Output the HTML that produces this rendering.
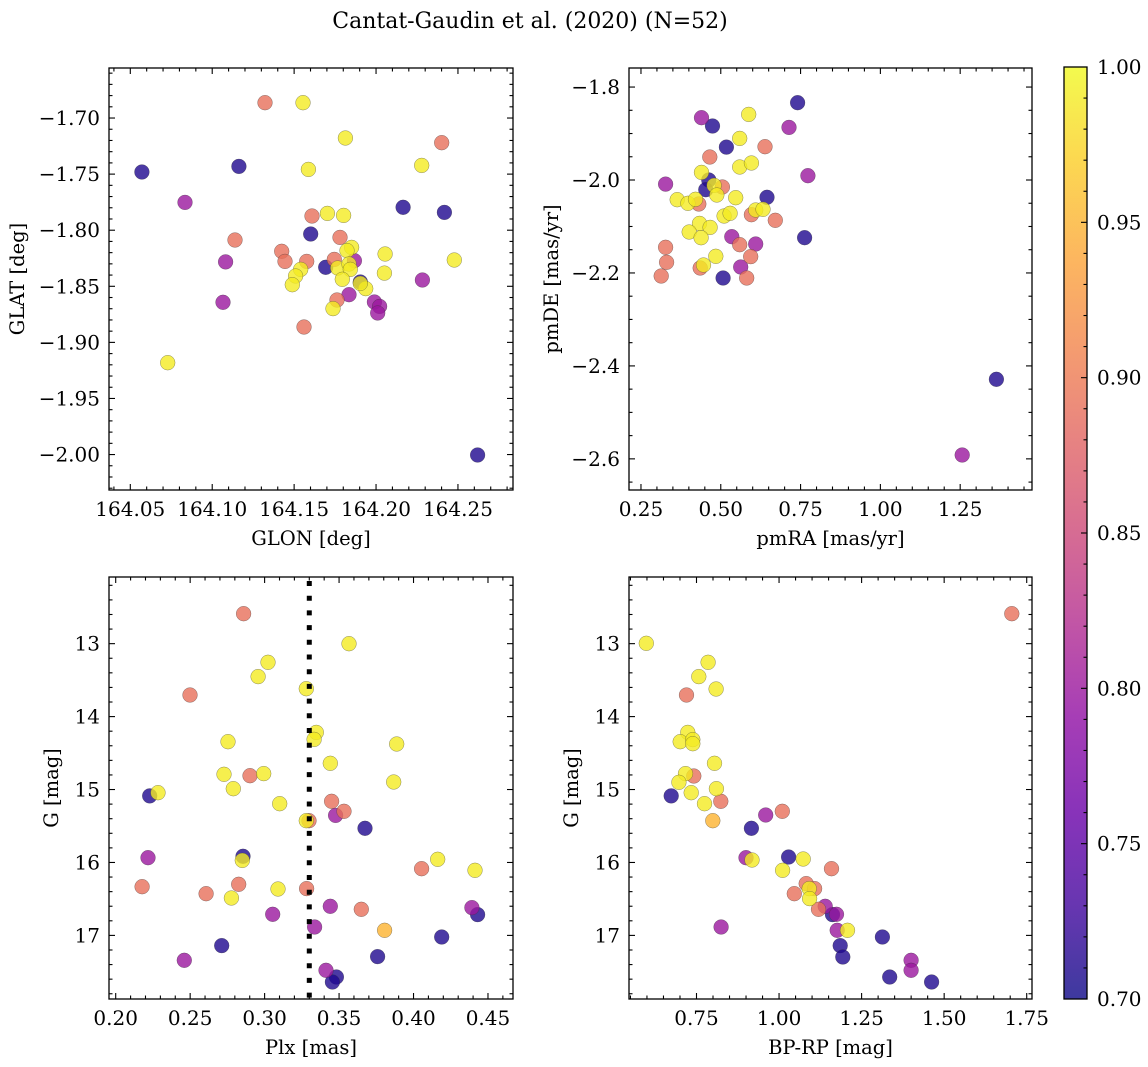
<!DOCTYPE html>
<html><head><meta charset="utf-8"><style>
html,body{margin:0;padding:0;background:#fff;}
svg{display:block;font-family:"DejaVu Serif","Liberation Serif",serif;}
</style></head><body>
<svg id="fig" width="1148" height="1067" viewBox="0 0 1148 1067" xmlns="http://www.w3.org/2000/svg">
<text x="530" y="28" text-anchor="middle" font-size="22">Cantat-Gaudin et al. (2020) (N=52)</text>
</svg>
<script>
// ---------- data ----------
const p1Glon=[164.0571,164.1163,164.1322,164.1554,164.1813,164.2401,164.2279,164.1587,164.0834,164.2165,164.2417,164.1609,164.1703,164.1802,164.1139,164.1601,164.1780,164.1424,164.1082,164.1444,164.1577,164.1851,164.1823,164.1693,164.1745,164.1868,164.1766,164.1835,164.1843,164.2055,164.1540,164.1509,164.1489,164.1794,164.1904,164.1937,164.2051,164.2283,164.2478,164.1066,164.1835,164.1762,164.1737,164.1990,164.2022,164.2010,164.1560,164.0728,164.2620,164.1904];
const p1Glat=[-1.7481,-1.7431,-1.6863,-1.6863,-1.7178,-1.7220,-1.7422,-1.7458,-1.7752,-1.7796,-1.7841,-1.7873,-1.7850,-1.7868,-1.8087,-1.8034,-1.8064,-1.8188,-1.8283,-1.8278,-1.8278,-1.8153,-1.8182,-1.8331,-1.8260,-1.8272,-1.8337,-1.8301,-1.8349,-1.8212,-1.8349,-1.8408,-1.8486,-1.8438,-1.8462,-1.8521,-1.8382,-1.8444,-1.8266,-1.8643,-1.8575,-1.8622,-1.8699,-1.8640,-1.8679,-1.8738,-1.8863,-1.9181,-2.0004,-1.8474];
const p1Prob=[0.71,0.71,0.89,0.99,0.99,0.89,0.99,0.99,0.80,0.71,0.71,0.89,0.99,0.99,0.89,0.71,0.89,0.89,0.80,0.89,0.89,0.99,0.99,0.71,0.89,0.80,0.99,0.99,0.99,0.99,0.99,0.99,0.99,0.99,0.71,0.99,0.99,0.80,0.99,0.80,0.80,0.89,0.99,0.80,0.80,0.80,0.89,0.99,0.71,0.99];

const p2PmRA=[0.7406,0.5875,0.4396,0.4740,0.7136,0.5594,0.5177,0.6385,0.4656,0.5594,0.5958,0.4396,0.7729,0.3271,0.4625,0.4531,0.4792,0.5052,0.4875,0.5469,0.6448,0.3635,0.3969,0.4313,0.4208,0.5958,0.6094,0.6323,0.5104,0.5292,0.6708,0.4333,0.4667,0.4010,0.4385,0.5344,0.7625,0.5594,0.6094,0.3271,0.3302,0.4844,0.5938,0.4354,0.4458,0.5625,0.3135,0.5073,0.5813,1.3636,1.2563];
const p2PmDE=[-1.8337,-1.8588,-1.8660,-1.8839,-1.8868,-1.9104,-1.9291,-1.9283,-1.9506,-1.9721,-1.9635,-1.9836,-1.9907,-2.0087,-2.0000,-2.0208,-2.0115,-2.0151,-2.0323,-2.0380,-2.0373,-2.0423,-2.0502,-2.0517,-2.0416,-2.0746,-2.0646,-2.0631,-2.0775,-2.0717,-2.0868,-2.0933,-2.1019,-2.1119,-2.1241,-2.1219,-2.1241,-2.1391,-2.1377,-2.1449,-2.1771,-2.1642,-2.1649,-2.1893,-2.1829,-2.1872,-2.2065,-2.2108,-2.2108,-2.4288,-2.5916];
const p2Prob=[0.71,0.99,0.80,0.71,0.80,0.99,0.71,0.89,0.89,0.99,0.99,0.99,0.80,0.80,0.71,0.71,0.99,0.89,0.99,0.99,0.71,0.99,0.99,0.89,0.99,0.89,0.99,0.99,0.99,0.99,0.89,0.99,0.99,0.99,0.99,0.80,0.71,0.89,0.80,0.89,0.89,0.99,0.89,0.89,0.99,0.80,0.89,0.71,0.89,0.71,0.80];

const p3Plx=[0.2859,0.3567,0.3023,0.2956,0.3280,0.2499,0.3347,0.3332,0.2754,0.3887,0.3441,0.2727,0.2902,0.2994,0.3867,0.2790,0.2228,0.2284,0.3101,0.3450,0.3533,0.3477,0.3280,0.3298,0.3674,0.2217,0.2855,0.2850,0.4162,0.4054,0.4413,0.2177,0.2607,0.2826,0.2777,0.3090,0.3282,0.3441,0.3649,0.3054,0.4392,0.4430,0.3336,0.3806,0.4189,0.2712,0.2461,0.3759,0.3412,0.3482,0.3455];
const p3G=[12.589,13.000,13.256,13.452,13.617,13.704,14.216,14.312,14.344,14.376,14.641,14.791,14.810,14.782,14.897,14.988,15.088,15.043,15.194,15.162,15.299,15.354,15.427,15.427,15.532,15.934,15.916,15.971,15.957,16.085,16.108,16.332,16.428,16.300,16.487,16.364,16.359,16.601,16.642,16.711,16.619,16.715,16.885,16.930,17.022,17.140,17.342,17.291,17.479,17.570,17.639];
const p3Prob=[0.89,0.99,0.99,0.99,0.99,0.89,0.99,0.99,0.99,0.99,0.99,0.99,0.89,0.99,0.99,0.99,0.71,0.99,0.99,0.89,0.89,0.80,0.99,0.89,0.71,0.80,0.71,0.99,0.99,0.89,0.99,0.89,0.89,0.89,0.99,0.99,0.89,0.80,0.89,0.80,0.80,0.71,0.80,0.95,0.71,0.71,0.80,0.71,0.80,0.71,0.71];
const plxLine=0.33;

const p4Bprp=[1.7047,0.5979,0.7852,0.7570,0.8094,0.7198,0.7238,0.7007,0.7389,0.7389,0.8044,0.7168,0.7419,0.6966,0.8104,0.6735,0.7339,0.7742,0.8235,0.7993,0.9595,1.0098,0.9162,0.9000,0.9182,1.0289,1.0732,1.0108,1.1588,1.0461,1.0823,1.1075,1.0914,1.0924,1.1397,1.1196,1.1619,1.1740,1.1760,1.2072,0.8245,1.3129,1.1851,1.1931,1.400,1.400,1.335,1.4620];
const p4G=[12.589,12.995,13.256,13.452,13.622,13.704,14.216,14.344,14.316,14.371,14.641,14.782,14.814,14.901,14.988,15.088,15.043,15.194,15.162,15.427,15.349,15.299,15.532,15.934,15.966,15.925,15.952,16.108,16.085,16.428,16.290,16.359,16.359,16.496,16.601,16.642,16.715,16.711,16.930,16.930,16.885,17.022,17.140,17.296,17.342,17.479,17.570,17.639];
const p4Prob=[0.89,0.99,0.99,0.99,0.99,0.89,0.99,0.99,0.99,0.99,0.99,0.99,0.89,0.99,0.99,0.71,0.99,0.99,0.89,0.95,0.80,0.89,0.71,0.80,0.99,0.71,0.99,0.99,0.89,0.89,0.89,0.89,0.99,0.99,0.80,0.89,0.71,0.80,0.80,0.99,0.80,0.71,0.71,0.71,0.80,0.80,0.71,0.71];

const p1XTicks=[164.05,164.10,164.15,164.20,164.25];
const p1XLabels=["164.05","164.10","164.15","164.20","164.25"];
const p1YTicks=[-1.70,-1.75,-1.80,-1.85,-1.90,-1.95,-2.00];
const p1YLabels=["\u22121.70","\u22121.75","\u22121.80","\u22121.85","\u22121.90","\u22121.95","\u22122.00"];
const p2XTicks=[0.25,0.50,0.75,1.00,1.25];
const p2XLabels=["0.25","0.50","0.75","1.00","1.25"];
const p2YTicks=[-1.8,-2.0,-2.2,-2.4,-2.6];
const p2YLabels=["\u22121.8","\u22122.0","\u22122.2","\u22122.4","\u22122.6"];
const p3XTicks=[0.20,0.25,0.30,0.35,0.40,0.45];
const p3XLabels=["0.20","0.25","0.30","0.35","0.40","0.45"];
const gTicks=[13,14,15,16,17];
const gLabels=["13","14","15","16","17"];
const p4XTicks=[0.75,1.00,1.25,1.50,1.75];
const p4XLabels=["0.75","1.00","1.25","1.50","1.75"];
const cbTicks=[0.70,0.75,0.80,0.85,0.90,0.95,1.00];
const cbLabels=["0.70","0.75","0.80","0.85","0.90","0.95","1.00"];

// ---------- drawing ----------
const NS="http://www.w3.org/2000/svg";
const svg=document.getElementById('fig');
const TF=20, AF=19.5;
function mk(tag,attrs,parent){const e=document.createElementNS(NS,tag);for(const k in attrs)e.setAttribute(k,attrs[k]);(parent||svg).appendChild(e);return e;}
const plasma=[[0,13,8,135],[0.1,65,4,157],[0.2,106,0,168],[0.3,143,13,164],[0.4,177,42,144],[0.5,204,71,120],[0.6,225,100,98],[0.7,242,132,75],[0.8,252,166,54],[0.9,252,206,37],[1,240,249,33]];
function cmap(t){t=Math.max(0,Math.min(1,t));for(let i=1;i<plasma.length;i++){if(t<=plasma[i][0]){const a=plasma[i-1],b=plasma[i];const f=(t-a[0])/(b[0]-a[0]);return `rgb(${Math.round(a[1]+f*(b[1]-a[1]))},${Math.round(a[2]+f*(b[2]-a[2]))},${Math.round(a[3]+f*(b[3]-a[3]))})`;}}return 'rgb(240,249,33)';}
const CMIN=0.7,CMAX=1.0;

function panel(c){
  const g=mk('g',{});
  
  
  const sx=v=>c.x0+(v-c.xlo)/(c.xhi-c.xlo)*(c.x1-c.x0);
  const sy=v=>c.y1-(v-c.ybot)/(c.ytop-c.ybot)*(c.y1-c.y0);
  const idx=c.xs.map((_,i)=>i).sort((a,b)=>c.cs[a]-c.cs[b]);
  const pg=mk('g',{},g);
  
  
  idx.forEach(i=>{
    const p=mk('circle',{cx:sx(c.xs[i]).toFixed(1),cy:sy(c.ys[i]).toFixed(1),r:7.4,fill:cmap((c.cs[i]-CMIN)/(CMAX-CMIN)),'fill-opacity':0.8,stroke:'#333','stroke-width':0.5,'stroke-opacity':0.55},pg);
    
    
  });
  if(c.vline!==undefined){
    const l=mk('line',{x1:sx(c.vline),x2:sx(c.vline),y1:c.y0+4,y2:c.y1,stroke:'#000','stroke-width':5,'stroke-dasharray':'5,9.7'},g);
    
    
  }
  const fr=mk('rect',{x:c.x0,y:c.y0,width:c.x1-c.x0,height:c.y1-c.y0,fill:'none',stroke:'#000','stroke-width':1.3},g);
  
  
  const tk=mk('g',{stroke:'#000','stroke-width':1.1},g);
  
  
  const lo=Math.min(c.xlo,c.xhi),hi=Math.max(c.xlo,c.xhi);
  for(let k=Math.ceil(lo/c.xminor-1e-6);k*c.xminor<=hi+1e-9;k++){
    const v=k*c.xminor;const X=sx(v);if(X<c.x0+0.5||X>c.x1-0.5)continue;
    const major=c.xt.some(t=>Math.abs(t-v)<c.xminor/10);const L=major?6:3.5;
    mk('line',{x1:X,x2:X,y1:c.y1,y2:c.y1-L},tk);mk('line',{x1:X,x2:X,y1:c.y0,y2:c.y0+L},tk);
  }
  const ylo=Math.min(c.ybot,c.ytop),yhi=Math.max(c.ybot,c.ytop);
  for(let k=Math.ceil(ylo/c.yminor-1e-6);k*c.yminor<=yhi+1e-9;k++){
    const v=k*c.yminor;const Y=sy(v);if(Y<c.y0+0.5||Y>c.y1-0.5)continue;
    const major=c.yt.some(t=>Math.abs(t-v)<c.yminor/10);const L=major?6:3.5;
    mk('line',{x1:c.x0,x2:c.x0+L,y1:Y,y2:Y},tk);mk('line',{x1:c.x1,x2:c.x1-L,y1:Y,y2:Y},tk);
  }
  c.xt.forEach((v,i)=>{const t=mk('text',{x:sx(v),y:c.y1+26,'text-anchor':'middle','font-size':TF},g);t.textContent=c.xl[i];
    
    });
  c.yt.forEach((v,i)=>{const t=mk('text',{x:c.x0-9,y:sy(v)+7,'text-anchor':'end','font-size':TF},g);t.textContent=c.yl[i];
    
    });
  const xt=mk('text',{x:(c.x0+c.x1)/2,y:c.y1+55,'text-anchor':'middle','font-size':AF},g);xt.textContent=c.xtitle;
  
  
  const yc=(c.y0+c.y1)/2;
  const yt=mk('text',{x:c.ytx,y:yc,'text-anchor':'middle','font-size':AF,transform:`rotate(-90 ${c.ytx} ${yc})`},g);yt.textContent=c.ytitle;
  
  
}

panel({name:'glon-glat-panel',x0:109,x1:513,y0:68,y1:490,xlo:164.0370,xhi:164.2836,ybot:-2.0316,ytop:-1.6554,
  xs:p1Glon,ys:p1Glat,cs:p1Prob,xt:p1XTicks,xl:p1XLabels,xminor:0.01,yt:p1YTicks,yl:p1YLabels,yminor:0.01,
  xtitle:'GLON [deg]',ytitle:'GLAT [deg]',ytx:24});
panel({name:'proper-motion-panel',x0:629,x1:1032,y0:68,y1:490,xlo:0.2125,xhi:1.4750,ybot:-2.667,ytop:-1.759,
  xs:p2PmRA,ys:p2PmDE,cs:p2Prob,xt:p2XTicks,xl:p2XLabels,xminor:0.05,yt:p2YTicks,yl:p2YLabels,yminor:0.05,
  xtitle:'pmRA [mas/yr]',ytitle:'pmDE [mas/yr]',ytx:558});
panel({name:'parallax-magnitude-panel',x0:109,x1:513,y0:577,y1:999,xlo:0.1955,xhi:0.4668,ybot:17.872,ytop:12.086,
  xs:p3Plx,ys:p3G,cs:p3Prob,xt:p3XTicks,xl:p3XLabels,xminor:0.01,yt:gTicks,yl:gLabels,yminor:0.2,
  xtitle:'Plx [mas]',ytitle:'G [mag]',ytx:58,vline:plxLine});
panel({name:'color-magnitude-panel',x0:629,x1:1032,y0:577,y1:999,xlo:0.5456,xhi:1.766,ybot:17.872,ytop:12.086,
  xs:p4Bprp,ys:p4G,cs:p4Prob,xt:p4XTicks,xl:p4XLabels,xminor:0.05,yt:gTicks,yl:gLabels,yminor:0.2,
  xtitle:'BP-RP [mag]',ytitle:'G [mag]',ytx:578});

(function(){
  const x0=1064,x1=1087,y0=67,y1=999;
  const defs=mk('defs',{});
  const gr=mk('linearGradient',{id:'cbg',x1:0,y1:1,x2:0,y2:0},defs);
  for(let i=0;i<=20;i++){mk('stop',{offset:(i/20),'stop-color':cmap(i/20),'stop-opacity':0.8},gr);}
  const g=mk('g',{});
  
  
  mk('rect',{x:x0,y:y0,width:x1-x0,height:y1-y0,fill:'url(#cbg)'},g);
  mk('rect',{x:x0,y:y0,width:x1-x0,height:y1-y0,fill:'none',stroke:'#000','stroke-width':1.3},g);
  const sy=v=>y1-(v-CMIN)/(CMAX-CMIN)*(y1-y0);
  for(let k=70;k<=100;k++){const v=k/100;const Y=sy(v);if(Y<y0+0.5||Y>y1-0.5)continue;const L=(k%5===0)?6:3.5;
    mk('line',{x1:x1,x2:x1-L,y1:Y,y2:Y,stroke:'#000','stroke-width':1.1},g);}
  cbTicks.forEach((v,i)=>{const t=mk('text',{x:x1+10,y:sy(v)+7,'font-size':TF},g);t.textContent=cbLabels[i];
    
    });
})();
</script>
</body></html>
